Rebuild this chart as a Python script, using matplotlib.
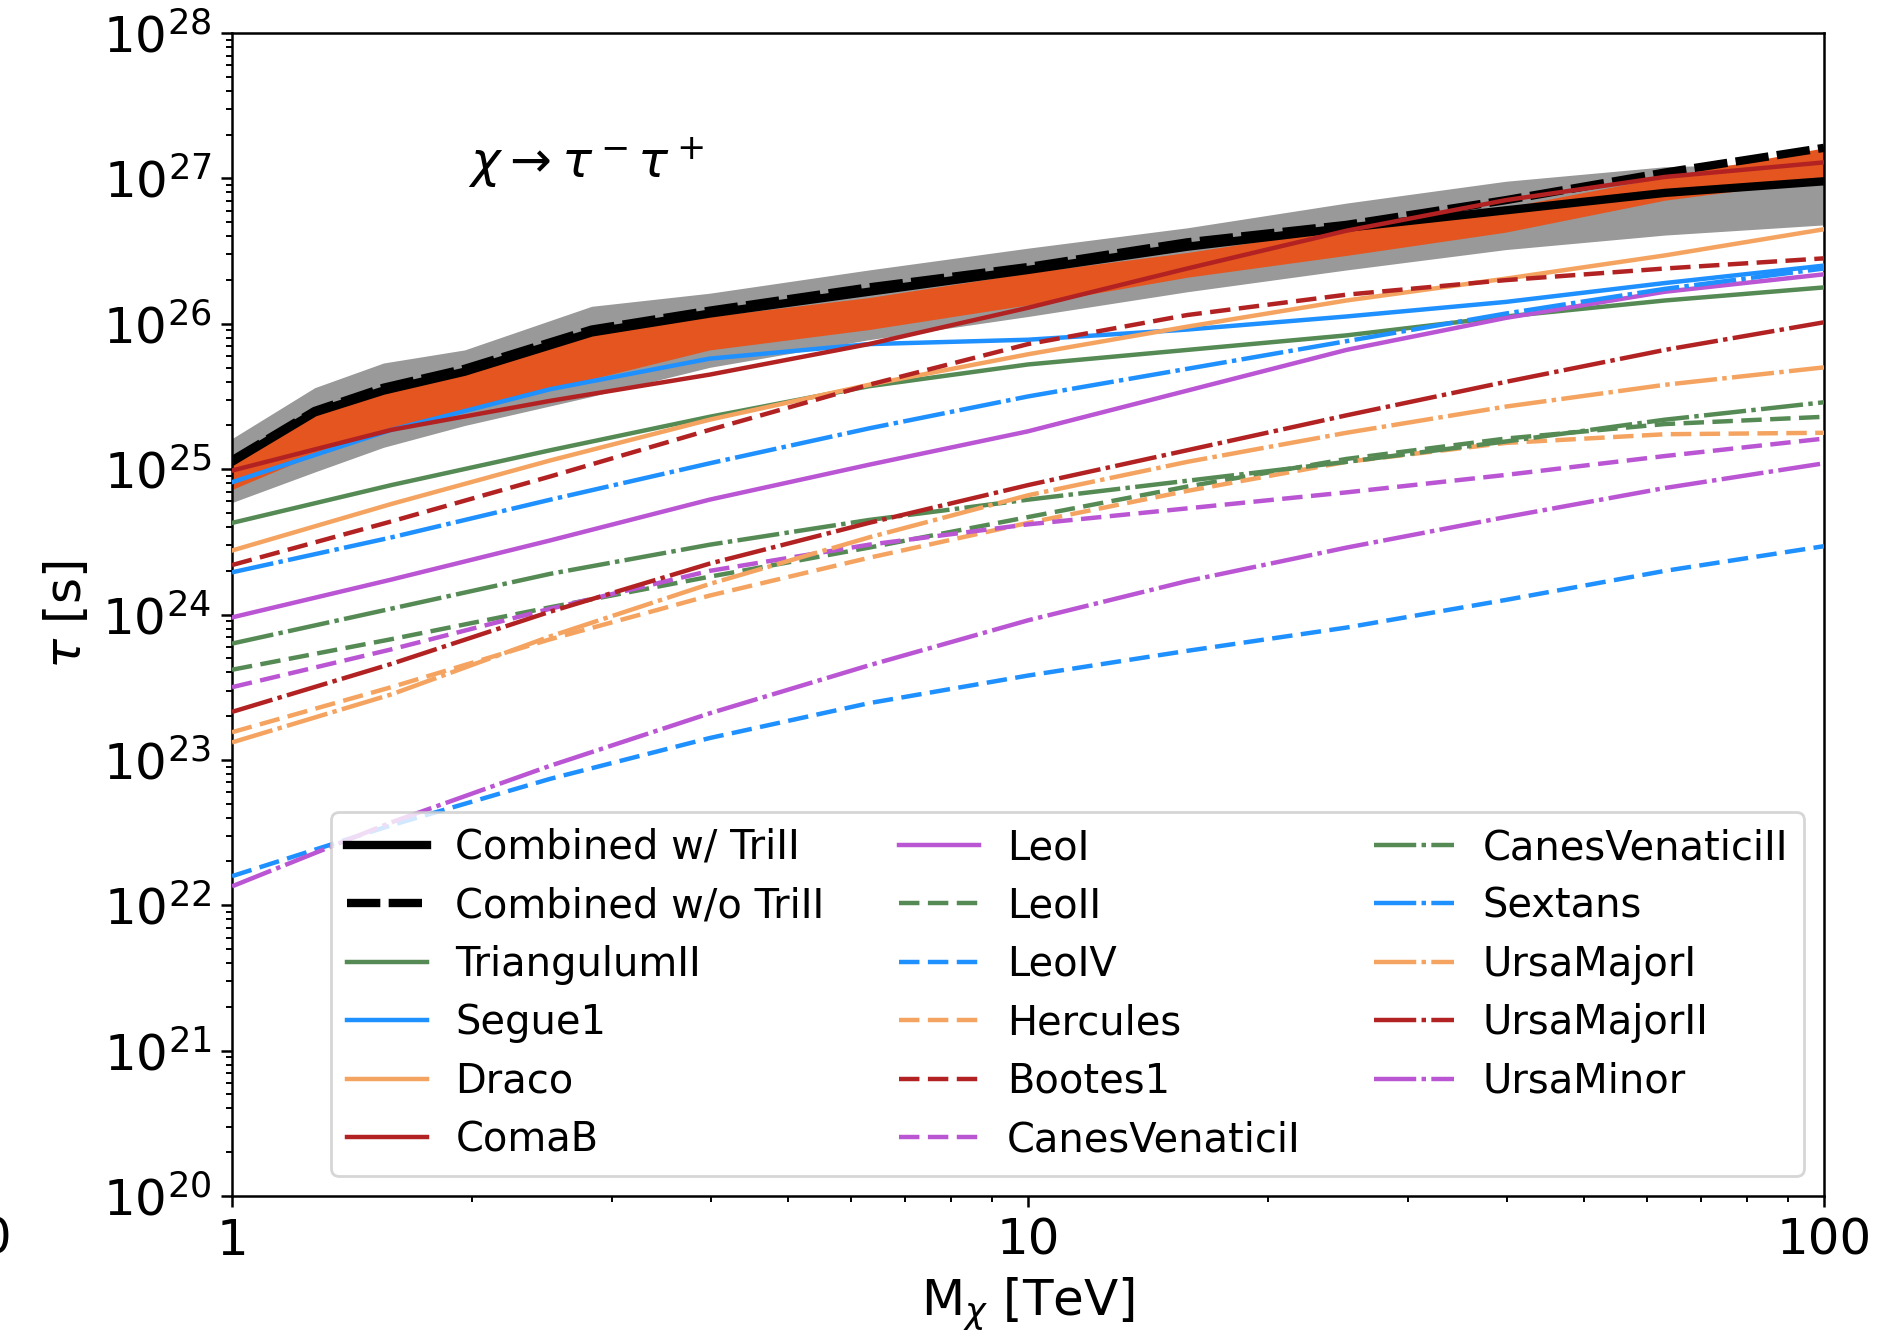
import numpy as np
import matplotlib
matplotlib.use("Agg")
import matplotlib.pyplot as plt

# ---------------- data (log10 of tau in seconds) ----------------
M_comb = [1.0, 1.27, 1.55, 1.96, 2.83, 3.981, 6.310, 10.0, 15.85, 25.12, 39.81, 63.10, 100.0]
log_comb_w = [25.05, 25.39, 25.54, 25.67, 25.94, 26.07, 26.22, 26.37, 26.53, 26.66, 26.78, 26.90, 26.98]
log_comb_wo = [25.06, 25.40, 25.56, 25.69, 25.96, 26.09, 26.25, 26.39, 26.56, 26.68, 26.85, 27.04, 27.21]
band_w_lo = [24.77, 24.98, 25.15, 25.30, 25.50, 25.70, 25.89, 26.05, 26.22, 26.37, 26.51, 26.61, 26.68]
band_w_hi = [25.21, 25.56, 25.73, 25.82, 26.12, 26.21, 26.37, 26.52, 26.66, 26.83, 26.98, 27.08, 27.11]
band_wo_lo = [24.86, 25.10, 25.25, 25.40, 25.62, 25.82, 25.96, 26.13, 26.32, 26.47, 26.63, 26.85, 26.99]
band_wo_hi = [25.04, 25.38, 25.53, 25.65, 25.92, 26.05, 26.18, 26.35, 26.49, 26.66, 26.80, 27.01, 27.21]

M = [1.0, 1.585, 2.512, 3.981, 6.310, 10.0, 15.85, 25.12, 39.81, 63.10, 100.0]
TriangulumII = [24.63, 24.89, 25.13, 25.36, 25.57, 25.72, 25.82, 25.92, 26.05, 26.16, 26.25]
Segue1 = [24.91, 25.27, 25.55, 25.76, 25.86, 25.89, 25.96, 26.05, 26.15, 26.28, 26.40]
Draco = [24.44, 24.76, 25.06, 25.34, 25.58, 25.79, 25.98, 26.16, 26.31, 26.47, 26.65]
ComaB = [24.99, 25.27, 25.47, 25.65, 25.86, 26.11, 26.38, 26.64, 26.85, 27.01, 27.11]
LeoI = [23.98, 24.24, 24.51, 24.79, 25.03, 25.26, 25.54, 25.82, 26.04, 26.22, 26.34]
LeoII = [23.62, 23.83, 24.05, 24.26, 24.46, 24.67, 24.88, 25.07, 25.21, 25.31, 25.36]
LeoIV = [22.20, 22.55, 22.87, 23.15, 23.39, 23.58, 23.75, 23.91, 24.10, 24.30, 24.47]
Hercules = [23.19, 23.50, 23.83, 24.13, 24.39, 24.63, 24.85, 25.05, 25.18, 25.24, 25.25]
Bootes1 = [24.34, 24.64, 24.95, 25.27, 25.58, 25.86, 26.06, 26.20, 26.30, 26.38, 26.45]
CanesVenaticiI = [23.50, 23.76, 24.04, 24.30, 24.48, 24.62, 24.73, 24.84, 24.96, 25.09, 25.21]
CanesVenaticiII = [23.80, 24.04, 24.28, 24.48, 24.65, 24.79, 24.92, 25.05, 25.19, 25.34, 25.46]
Sextans = [24.29, 24.53, 24.79, 25.04, 25.28, 25.50, 25.69, 25.88, 26.07, 26.24, 26.38]
UrsaMajorI = [23.12, 23.45, 23.85, 24.21, 24.53, 24.82, 25.05, 25.25, 25.43, 25.58, 25.70]
UrsaMajorII = [23.33, 23.66, 24.02, 24.35, 24.63, 24.89, 25.13, 25.37, 25.60, 25.82, 26.01]
UrsaMinor = [22.13, 22.57, 22.96, 23.32, 23.65, 23.96, 24.23, 24.46, 24.67, 24.87, 25.04]

dwarf_names = ["TriangulumII", "Segue1", "Draco", "ComaB", "LeoI", "LeoII", "LeoIV",
               "Hercules", "Bootes1", "CanesVenaticiI", "CanesVenaticiII", "Sextans",
               "UrsaMajorI", "UrsaMajorII", "UrsaMinor"]
dwarf_values = [TriangulumII, Segue1, Draco, ComaB, LeoI, LeoII, LeoIV, Hercules, Bootes1,
                CanesVenaticiI, CanesVenaticiII, Sextans, UrsaMajorI, UrsaMajorII, UrsaMinor]

palette = ["#558a55", "#1e90ff", "#f4a460", "#b22222", "#ba55d3"]
dash_patterns = [None, (4.6, 1.9), (9.5, 1.2, 1.0, 1.2)]

# ---------------- figure ----------------
DPI = 200
fig = plt.figure(figsize=(1881 / DPI, 1330 / DPI), dpi=DPI)
ax = fig.add_axes([232 / 1881, 1 - 1196 / 1330, (1824 - 232) / 1881, (1196 - 33) / 1330])

ax.fill_between(M_comb, 10 ** np.array(band_w_lo), 10 ** np.array(band_w_hi),
                color="#999999", lw=0, zorder=1)
ax.fill_between(M_comb, 10 ** np.array(band_wo_lo), 10 ** np.array(band_wo_hi),
                color="#e5551f", lw=0, zorder=2)

ax.plot(M_comb, 10 ** np.array(log_comb_w), color="black", lw=3.0, ls="-",
        label="Combined w/ TriII", zorder=3)
ax.plot(M_comb, 10 ** np.array(log_comb_wo), color="black", lw=3.0, ls="--",
        dashes=(4.0, 1.0), label="Combined w/o TriII", zorder=3)

for i, (name, vals) in enumerate(zip(dwarf_names, dwarf_values)):
    kw = {}
    pat = dash_patterns[i // 5]
    if pat is not None:
        kw["dashes"] = pat
    ax.plot(M, 10 ** np.array(vals), color=palette[i % 5], lw=1.6,
            label=name, zorder=4, **kw)

ax.set_xscale("log")
ax.set_yscale("log")
ax.set_xlim(1, 100)
ax.set_ylim(1e20, 1e28)
ax.set_yticks([10.0 ** k for k in range(20, 29)])

ax.tick_params(axis="both", which="major", labelsize=18, length=4, width=0.9)
ax.tick_params(axis="both", which="minor", length=2.2, width=0.7)
ax.xaxis.set_major_formatter(matplotlib.ticker.FuncFormatter(lambda v, p: "%g" % v))
for s in ax.spines.values():
    s.set_linewidth(0.9)

ax.set_xlabel(r"M$_\chi$ [TeV]", fontsize=18, labelpad=4)
ax.set_ylabel(r"$\tau$ [s]", fontsize=18)

ax.text(1.98, 10 ** 27.1, r"$\chi \rightarrow \tau^- \tau^+$", fontsize=18, va="center")

ax.legend(loc="lower right", ncol=3, fontsize=14.4, labelspacing=0.46,
          columnspacing=1.85, handletextpad=0.7, borderaxespad=0.5)

fig.text(0.006, 1 - 1240 / 1330, "0", fontsize=18, ha="right", va="center")

fig.savefig("out.png", dpi=DPI)
